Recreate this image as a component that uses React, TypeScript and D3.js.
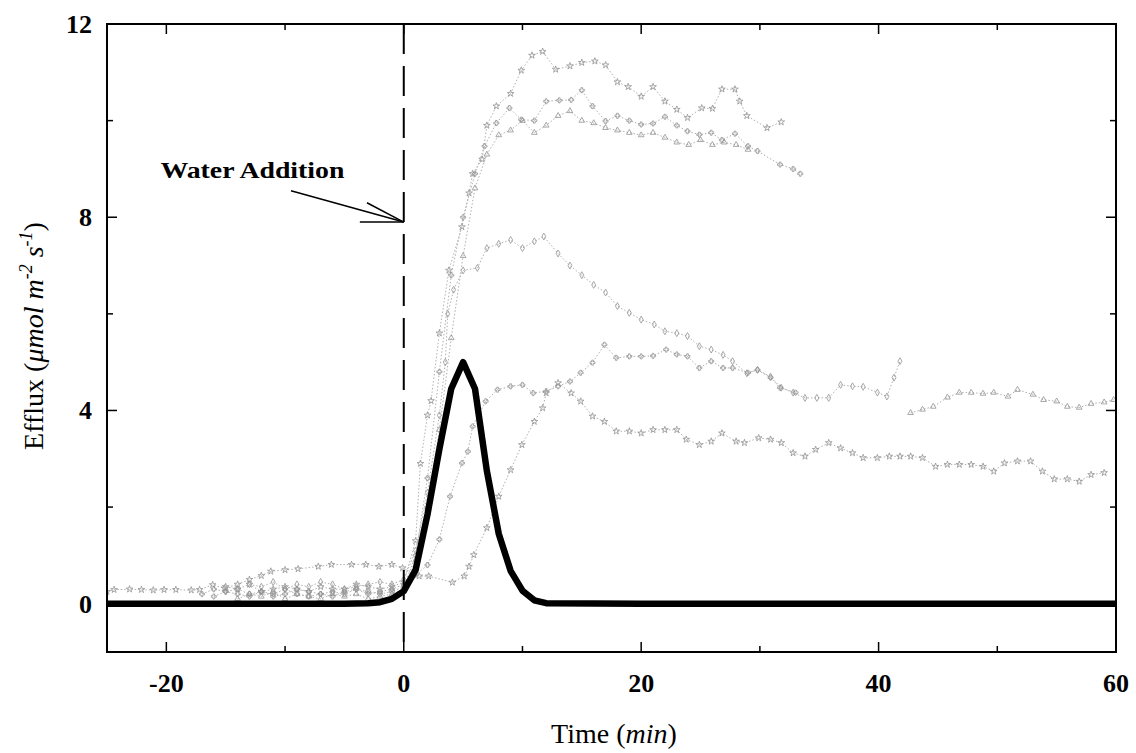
import React from 'react'
import * as d3 from 'd3'

// model curve (thick black line)
const modelTime = [-25, -10, -5, -3, -2, -1, 0, 1, 2, 3, 4, 5, 6, 7, 8, 9, 10, 11, 12, 20, 40, 60]
const modelEfflux = [0, 0, 0, 0.01, 0.03, 0.1, 0.26, 0.7, 1.85, 3.2, 4.45, 5.0, 4.45, 2.75, 1.45, 0.68, 0.27, 0.07, 0.01, 0, 0, 0]

// measured efflux, [time, value]
const seriesA = [
  [-15, 0.35], [-14, 0.3], [-13, 0.4], [-12, 0.25], [-11, 0.3], [-10, 0.35], [-9, 0.3], [-8, 0.25],
  [-7, 0.35], [-6, 0.3], [-5, 0.3], [-4, 0.4], [-3, 0.35], [-2, 0.3], [-1, 0.35], [0, 0.45],
  [1, 1.3], [1.4, 2.9], [2, 3.9], [2.3, 4.2], [3, 5.6], [3.8, 6.9], [4.9, 7.8], [5.5, 8.5], [5.8, 8.9],
  [6.6, 9.2], [7, 9.9], [7.8, 10.3], [9, 10.56], [9.9, 11.04], [10.8, 11.35], [11.7, 11.43],
  [12.8, 11.06], [14, 11.13], [15, 11.2], [16.1, 11.23], [17, 11.15], [18, 10.8], [18.9, 10.7],
  [20, 10.5], [21, 10.7], [22, 10.4], [23, 10.23], [23.9, 10.06], [25.1, 10.26], [26, 10.25],
  [26.8, 10.65], [27.9, 10.65], [28.3, 10.4], [28.9, 10.1], [30.6, 9.85], [31.8, 9.97]
]
const seriesB = [
  [-17, 0.2], [-16, 0.3], [-15, 0.25], [-14, 0.2], [-13, 0.15], [-12, 0.25], [-11, 0.2], [-10, 0.3],
  [-9, 0.2], [-8, 0.15], [-7, 0.2], [-6, 0.25], [-5, 0.2], [-4, 0.3], [-3, 0.25], [-2, 0.2], [-1, 0.25],
  [0, 0.35], [1, 1.0], [2, 2.6], [3, 4.8], [4, 6.8], [5, 8.0], [6, 8.9], [6.8, 9.47], [7.8, 9.95],
  [8.9, 10.26], [9.9, 10.02], [11, 10.0], [12, 10.4], [13.1, 10.42], [14.1, 10.43], [15, 10.63],
  [15.9, 10.3], [17, 9.99], [18, 10.1], [19, 10.0], [20, 9.92], [21, 9.94], [22, 10.08], [23, 9.9],
  [23.9, 9.78], [24.9, 9.71], [25.9, 9.75], [26.8, 9.6], [27.9, 9.73], [29, 9.47], [29.8, 9.37],
  [31.7, 9.09], [32.8, 9.0], [33.4, 8.9]
]
const seriesC = [
  [-14, 0.1], [-13, 0.2], [-12, 0.15], [-11, 0.25], [-10, 0.1], [-9, 0.2], [-8, 0.15], [-7, 0.1],
  [-6, 0.2], [-5, 0.15], [-4, 0.2], [-3, 0.1], [-2, 0.15], [-1, 0.2], [0, 0.3], [1, 0.9], [2, 2.0],
  [3, 3.6], [4, 5.5], [5, 7.2], [6, 8.6], [7, 9.3], [8, 9.7], [9, 9.8], [10, 10.0], [11, 9.75],
  [12, 9.9], [13, 10.1], [14, 10.2], [15, 10.0], [16, 9.95], [17, 9.85], [18, 9.8], [19, 9.75],
  [20, 9.7], [21, 9.75], [22, 9.65], [23, 9.55], [24, 9.5], [25, 9.6], [26, 9.5], [27, 9.55],
  [28, 9.5], [29, 9.4]
]
const seriesD = [
  [-13, 0.4], [-12, 0.35], [-11, 0.45], [-10, 0.3], [-9, 0.4], [-8, 0.35], [-7, 0.45], [-6, 0.4],
  [-5, 0.3], [-4, 0.35], [-3, 0.4], [-2, 0.45], [-1, 0.4], [0, 0.5], [1, 1.1], [2, 2.3], [3, 3.9],
  [3.5, 5.0], [3.7, 6.0], [4.2, 6.5], [5, 6.9], [6.2, 6.95], [7, 7.36], [8, 7.45], [9, 7.53],
  [10, 7.36], [11, 7.5], [11.8, 7.6], [13, 7.25], [14, 7.0], [15, 6.8], [16, 6.6], [17, 6.44],
  [18, 6.16], [19, 6.02], [20, 5.88], [21.1, 5.78], [22, 5.64], [23, 5.6], [23.9, 5.54], [24.9, 5.33],
  [25.9, 5.26], [26.9, 5.15], [27.7, 5.02], [28.9, 4.77], [29.8, 4.84], [30.9, 4.7], [31.8, 4.47],
  [32.8, 4.37], [33.8, 4.26], [34.8, 4.26], [35.8, 4.26], [36.8, 4.53], [37.8, 4.5], [38.7, 4.49],
  [39.9, 4.37], [40.7, 4.29], [41.3, 4.68], [41.8, 5.02]
]
const seriesE = [
  [-16, 0.15], [-15, 0.25], [-14, 0.3], [-13, 0.2], [-12, 0.25], [-11, 0.15], [-10, 0.2], [-9, 0.3],
  [-8, 0.25], [-7, 0.2], [-6, 0.15], [-5, 0.25], [-4, 0.3], [-3, 0.2], [-2, 0.25], [-1, 0.3],
  [0, 0.4], [1, 0.6], [2, 0.8], [3, 1.33], [3.9, 2.22], [4.9, 2.91], [5.4, 3.15], [5.8, 3.67],
  [6.9, 4.19], [7.9, 4.43], [9, 4.5], [10, 4.53], [10.9, 4.36], [12, 4.4], [13, 4.5], [14, 4.6],
  [14.9, 4.78], [15.9, 4.99], [16.9, 5.36], [17.9, 5.09], [19, 5.12], [20, 5.12], [21, 5.13],
  [22.1, 5.26], [23, 5.16], [23.9, 5.12], [24.9, 4.88], [25.9, 5.02], [26.9, 4.88], [27.7, 4.88],
  [29, 4.78], [29.8, 4.84], [30.9, 4.68], [31.7, 4.47], [33, 4.37]
]
const seriesF = [
  [-25, 0.25], [-24.4, 0.29], [-23.1, 0.3], [-22.1, 0.29], [-21.1, 0.28], [-20.2, 0.29], [-19.2, 0.29],
  [-17.9, 0.28], [-17.2, 0.29], [-16.1, 0.39], [-15.1, 0.32], [-14, 0.4], [-13, 0.5], [-12, 0.58],
  [-11.2, 0.67], [-10, 0.7], [-8.9, 0.72], [-7.2, 0.77], [-6.1, 0.81], [-4.4, 0.81], [-3.2, 0.81],
  [-2.1, 0.77], [-1, 0.81], [-0.1, 0.74], [1.3, 0.57], [2.1, 0.57], [4.1, 0.44], [5.1, 0.57],
  [5.5, 0.77], [5.9, 1.01], [7, 1.57], [8, 2.22], [9, 2.77], [9.95, 3.29], [11, 3.77], [11.7, 4.05],
  [12, 4.36], [13, 4.57], [14.1, 4.36], [14.9, 4.19], [15.9, 3.88], [16.9, 3.77], [17.9, 3.57],
  [19, 3.57], [20, 3.53], [21, 3.6], [22, 3.6], [23, 3.6], [23.8, 3.4], [24.9, 3.29], [25.9, 3.36],
  [26.8, 3.53], [28, 3.36], [28.7, 3.33], [29.9, 3.43], [30.9, 3.4], [31.8, 3.33], [32.8, 3.12],
  [33.8, 3.05], [34.7, 3.19], [35.8, 3.33], [36.8, 3.22], [37.8, 3.12], [38.7, 3.02], [39.9, 3.02],
  [40.9, 3.05], [41.8, 3.05], [42.7, 3.05], [43.7, 3.02], [44.8, 2.84], [45.8, 2.88], [46.8, 2.88],
  [47.8, 2.88], [48.8, 2.84], [49.7, 2.74], [50.6, 2.91], [51.7, 2.95], [52.8, 2.95], [53.8, 2.74],
  [54.8, 2.58], [55.9, 2.58], [56.9, 2.53], [57.9, 2.67], [59, 2.71]
]
const seriesG = [
  [42.7, 3.95], [43.7, 4.02], [44.6, 4.08], [45.8, 4.27], [46.8, 4.37], [47.8, 4.37], [48.8, 4.35],
  [49.7, 4.37], [50.9, 4.29], [51.7, 4.43], [53, 4.33], [53.9, 4.22], [55, 4.19], [55.9, 4.08],
  [56.9, 4.06], [57.9, 4.14], [59, 4.17], [59.8, 4.22]
]

const xMajor = [-20, 0, 20, 40, 60]
const xMinor = [-10, 10, 30, 50]
const yMajor = [0, 4, 8, 12]
const yMinor = [2, 6, 10]

const W = 1136
const H = 753
const M = { left: 107, right: 1116, top: 24, bottom: 652 }
const FONT = '"Liberation Serif", "Times New Roman", serif'

const measured = [seriesA, seriesB, seriesC, seriesD, seriesE, seriesF, seriesG]
const shapes = [d3.symbolStar, d3.symbolCross, d3.symbolTriangle, d3.symbolDiamond, d3.symbolCross, d3.symbolStar, d3.symbolTriangle]

export default function App() {
  const x = d3.scaleLinear().domain([-25, 60]).range([M.left, M.right])
  const y = d3.scaleLinear().domain([-1, 12]).range([M.bottom, M.top])

  const line = d3.line<number[]>().x(d => x(d[0])).y(d => y(d[1]))
  const model = modelTime.map((t, i) => [t, modelEfflux[i]])

  const majorLen = 10
  const minorLen = 6

  return (
    <svg width={W} height={H} style={{ position: 'absolute', left: 0, top: 0, background: '#fff' }} fontFamily={FONT}>
      <g clipPath="url(#plot)">
        <clipPath id="plot">
          <rect x={M.left} y={M.top} width={M.right - M.left} height={M.bottom - M.top} />
        </clipPath>
        {measured.map((s, i) => (
          <g key={i}>
            <path d={line(s) || ''} fill="none" stroke="#b0b0b0" strokeWidth={1} strokeDasharray="1.5 2" />
            {s.map((d, j) => (
              <path key={j} transform={`translate(${x(d[0])},${y(d[1])})`}
                d={d3.symbol().type(shapes[i]).size(14)() || ''}
                fill="none" stroke="#939393" strokeWidth={0.8} />
            ))}
          </g>
        ))}
        <path d={line(model) || ''} fill="none" stroke="#000" strokeWidth={6.5} strokeLinejoin="round" />
      </g>

      {/* water addition marker */}
      <line x1={x(0)} x2={x(0)} y1={M.top} y2={M.bottom} stroke="#000" strokeWidth={2} strokeDasharray="30 12" />

      {/* frame */}
      <rect x={M.left} y={M.top} width={M.right - M.left} height={M.bottom - M.top} fill="none" stroke="#000" strokeWidth={2} />

      {xMajor.concat(xMinor).map(t => {
        const len = xMajor.includes(t) ? majorLen : minorLen
        return (
          <g key={'x' + t} stroke="#000" strokeWidth={1.5}>
            <line x1={x(t)} x2={x(t)} y1={M.bottom} y2={M.bottom - len} />
            <line x1={x(t)} x2={x(t)} y1={M.top} y2={M.top + len} />
          </g>
        )
      })}
      {yMajor.concat(yMinor).map(t => {
        const len = yMajor.includes(t) ? majorLen : minorLen
        return (
          <g key={'y' + t} stroke="#000" strokeWidth={1.5}>
            <line x1={M.left} x2={M.left + len} y1={y(t)} y2={y(t)} />
            <line x1={M.right} x2={M.right - len} y1={y(t)} y2={y(t)} />
          </g>
        )
      })}

      {xMajor.map(t => (
        <text key={'xl' + t} x={x(t)} y={692} textAnchor="middle" fontSize={26} fontWeight="bold">{t}</text>
      ))}
      {yMajor.map(t => (
        <text key={'yl' + t} x={92} y={y(t) + 9} textAnchor="end" fontSize={26} fontWeight="bold">{t}</text>
      ))}

      <text x={614} y={743} textAnchor="middle" fontSize={28}>
        Time (<tspan fontStyle="italic">min</tspan>)
      </text>
      <text transform={`translate(43,336) rotate(-90)`} textAnchor="middle" fontSize={28}>
        Efflux (<tspan fontStyle="italic">μmol m</tspan>
        <tspan fontStyle="italic" fontSize={18} dy={-11}>-2</tspan>
        <tspan fontStyle="italic" dy={11}> s</tspan>
        <tspan fontStyle="italic" fontSize={18} dy={-11}>-1</tspan>
        <tspan dy={11}>)</tspan>
      </text>

      <text x={x(-20.5)} y={178} fontSize={24} fontWeight="bold" textLength={184} lengthAdjust="spacingAndGlyphs">Water Addition</text>
      <g stroke="#000" strokeWidth={1.5} fill="none">
        <line x1={x(-9.5)} y1={y(8.55)} x2={x(0)} y2={y(7.9)} />
        <line x1={x(-3.1)} y1={y(8.3)} x2={x(0)} y2={y(7.9)} />
        <line x1={x(-3.7)} y1={y(7.9)} x2={x(0)} y2={y(7.9)} />
      </g>
    </svg>
  )
}
